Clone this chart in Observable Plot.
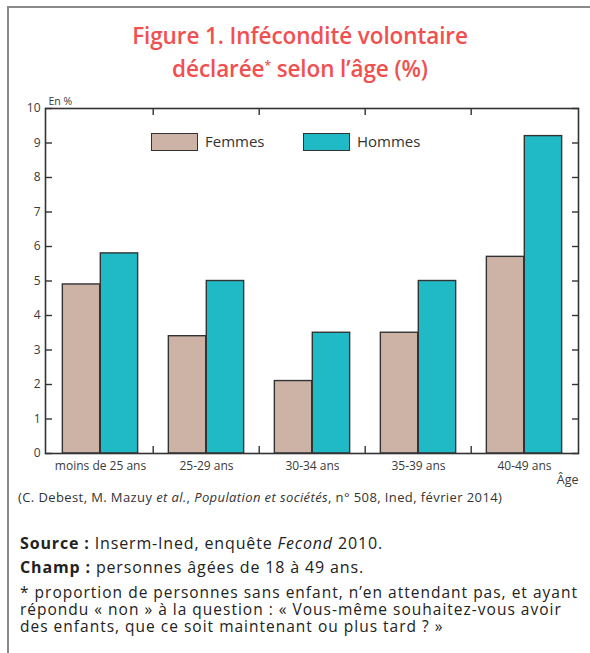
<!DOCTYPE html>
<html>
<head>
<meta charset="utf-8">
<script src="https://cdn.jsdelivr.net/npm/d3@7"></script>
<script src="https://cdn.jsdelivr.net/npm/@observablehq/plot@0.6"></script>
<style>
  html, body { margin: 0; padding: 0; background: #fff; }
  #page { position: relative; width: 590px; height: 653px; overflow: hidden; font-family: "Open Sans", sans-serif; color: #2b2b2b; }
  #border { position: absolute; left: 7px; top: 6px; width: 600px; height: 700px; border-left: 2.5px solid #8a8a8a; border-top: 2.5px solid #8a8a8a; }
  #title { position: absolute; left: 0; width: 600px; top: 21px; text-align: center; color: #f0504f; font-weight: 600; font-size: 22.5px; line-height: 30px; letter-spacing: -0.1px; }
  #chart { position: absolute; left: 0; top: 90px; }
  #legend { position: absolute; top: 133px; left: 0; font-size: 15px; color: #333; }
  .sw { position: absolute; width: 45px; height: 16px; border: 1.5px solid #333; }
  .lt { position: absolute; top: -2px; white-space: nowrap; }
  #cite { position: absolute; left: 18px; top: 488px; font-size: 13px; letter-spacing: 0.4px; color: #333; white-space: nowrap; }
  #notes { position: absolute; left: 20px; top: 531px; font-size: 16px; letter-spacing: 0.85px; color: #222; }
  #notes div { margin: 0; white-space: nowrap; }
  #notes .fn { font-size: 15.5px; letter-spacing: 1.0px; line-height: 17px; height: 17px; }
</style>
</head>
<body>
<div id="page">
  <div id="border"></div>
  <div id="title">Figure 1. Infécondité volontaire<br>déclarée<sup style="font-size:12px;vertical-align:7px">*</sup> selon l’âge (%)</div>
  <div id="chart"></div>
  <div id="legend"></div>
  <div id="cite">(C. Debest, M. Mazuy <i>et al.</i>, <i>Population et sociétés</i>, n° 508, Ined, février 2014)</div>
  <div id="notes">
    <div style="line-height:24px"><b>Source :</b> Inserm-Ined, enquête <i>Fecond</i> 2010.</div>
    <div style="line-height:24px"><b>Champ :</b> personnes âgées de 18 à 49 ans.</div>
    <div class="fn" style="margin-top:5px">* proportion de personnes sans enfant, n’en attendant pas, et ayant</div>
    <div class="fn">répondu « non » à la question : « Vous-même souhaitez-vous avoir</div>
    <div class="fn">des enfants, que ce soit maintenant ou plus tard ? »</div>
  </div>
</div>
<script>
const categories = ["moins de 25 ans", "25-29 ans", "30-34 ans", "35-39 ans", "40-49 ans"];
const femmes = [4.9, 3.4, 2.1, 3.5, 5.7];
const hommes = [5.8, 5.0, 3.5, 5.0, 9.2];
const seriesNames = ["Femmes", "Hommes"];
const seriesColors = ["#cdb3a6", "#1fbac6"];
const yTicks = [0, 1, 2, 3, 4, 5, 6, 7, 8, 9, 10];

const W = 590, H = 400;
const mL = 45, mR = 12, mT = 18, mB = 37;
const step = (W - mL - mR) / categories.length;
const barW = step * 0.356;
const outer = (step - 2 * barW) / 2;

const dataF = categories.map((c, i) => ({cat: c, v: femmes[i]}));
const dataH = categories.map((c, i) => ({cat: c, v: hommes[i]}));
const ink = "#3a3a3a";

const chart = Plot.plot({
  width: W, height: H,
  marginLeft: mL, marginRight: mR, marginTop: mT, marginBottom: mB,
  style: {fontFamily: "Open Sans, sans-serif", fontSize: "12px", color: ink, background: "transparent"},
  x: {type: "band", domain: categories, padding: 0, label: null},
  y: {domain: [0, 10], label: null},
  marks: [
    Plot.barY(dataF, {x: "cat", y: "v", fill: seriesColors[0], stroke: "#333", strokeWidth: 1.4, insetLeft: outer, insetRight: outer + barW}),
    Plot.barY(dataH, {x: "cat", y: "v", fill: seriesColors[1], stroke: "#333", strokeWidth: 1.4, insetLeft: outer + barW, insetRight: outer}),
    Plot.ruleX(categories.slice(1), {y1: 0, y2: 0.2, dx: -step / 2, stroke: "#333", strokeWidth: 1.4}),
    Plot.ruleX(categories.slice(1), {y1: 9.8, y2: 10, dx: -step / 2, stroke: "#333", strokeWidth: 1.4}),
    Plot.axisY({anchor: "left", ticks: yTicks, tickSize: -7, tickPadding: 12, stroke: "#333", strokeWidth: 1.4, fill: ink, fontSize: 12, label: null}),
    Plot.axisY({anchor: "right", ticks: yTicks, tickSize: -7, tickFormat: () => "", stroke: "#333", strokeWidth: 1.4, label: null}),
    Plot.axisX({anchor: "bottom", tickSize: 0, tickPadding: 8, fill: ink, fontSize: 12, label: null}),
    Plot.frame({stroke: "#333", strokeWidth: 1.6}),
    Plot.text(["En %"], {frameAnchor: "top-left", dx: 3, dy: -11, textAnchor: "start", fontSize: 10.5, fill: ink}),
    Plot.text(["Âge"], {frameAnchor: "bottom-right", dy: 30, textAnchor: "end", fontSize: 12.5, fill: ink})
  ]
});
document.getElementById("chart").appendChild(chart);

const legend = document.getElementById("legend");
const legendX = [151, 303];
seriesNames.forEach((name, i) => {
  const sw = document.createElement("div");
  sw.className = "sw";
  sw.style.left = legendX[i] + "px";
  sw.style.background = seriesColors[i];
  legend.appendChild(sw);
  const t = document.createElement("div");
  t.className = "lt";
  t.style.left = (legendX[i] + 54) + "px";
  t.textContent = name;
  legend.appendChild(t);
});
</script>
</body>
</html>
